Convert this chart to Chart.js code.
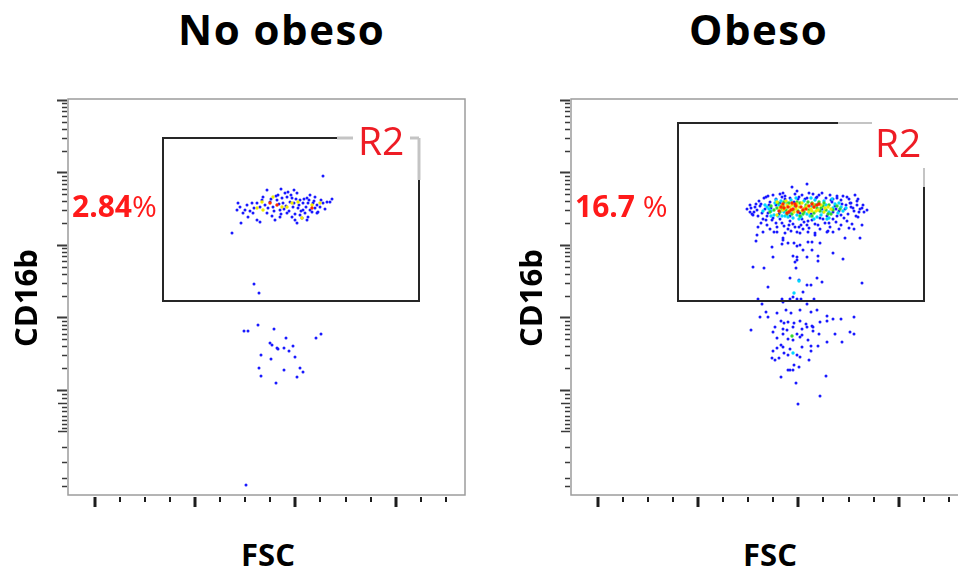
<!DOCTYPE html>
<html>
<head>
<meta charset="utf-8">
<script src="https://cdn.jsdelivr.net/npm/chart.js@4.4.1/dist/chart.umd.min.js"></script>
<style>
  body { margin: 0; width: 958px; height: 572px; overflow: hidden; background: #fff; position: relative; font-family: "Open Sans", sans-serif; }
  canvas { position: absolute; top: 90px; }
  .t { position: absolute; white-space: nowrap; line-height: normal; z-index: 2; }
  .title { font-size: 42px; font-weight: 700; letter-spacing: 1.5px; top: 0px; color: #000; }
  .pct { font-size: 30px; font-weight: 700; color: #ff1a1a; top: 185px; }
  .pct span { font-weight: 400; }
  .gate { font-size: 39px; color: #ee1c25; }
  .axy { font-size: 31px; font-weight: 700; width: 200px; height: 42px; text-align: center; top: 277px; transform: rotate(-90deg); }
  .axx { font-size: 31px; font-weight: 700; width: 200px; text-align: center; top: 533px; }
</style>
</head>
<body>
<canvas id="leftPlot" width="430" height="430" style="left:40px"></canvas>
<canvas id="rightPlot" width="430" height="430" style="left:543px"></canvas>

<div class="t title" style="left:178px">No obeso</div>
<div class="t title" style="left:689px">Obeso</div>
<div class="t pct" style="left:72px">2.84<span>%</span></div>
<div class="t pct" style="left:575px">16.7 <span>%</span></div>
<div class="t gate" style="left:358px;top:113px">R2</div>
<div class="t gate" style="left:875px;top:115px">R2</div>
<div class="t axy" style="left:-75px">CD16b</div>
<div class="t axy" style="left:430px">CD16b</div>
<div class="t axx" style="left:168px">FSC</div>
<div class="t axx" style="left:670px">FSC</div>

<script>
// FSC (linear channels) and CD16b (log display channels), one pair per event
const leftBlue = [
  [170,292],[172,288],[169,285],[175,282],[179,290],[177,285],[184,292],[185,282],[173,272],[189,275],[192,273],[180,278],
  [195,298],[199,305],[202,293],[205,288],[209,295],[212,285],[215,292],[219,298],[222,293],[225,288],[229,302],[232,295],
  [235,292],[239,297],[242,285],[245,292],[249,290],[252,288],[255,292],[259,293],[264,296],[262,293],
  [212,278],[219,282],[224,278],[227,275],[232,280],[237,282],[239,275],[229,272],[207,275],[199,282],[192,288],[189,292],
  [200,287],[210,300],[217,302],[220,303],[224,297],[230,287],[235,285],[240,292],[247,287],[250,283],[242,300],[247,298],
  [249,282],[240,278],
  [197,290],[203,296],[206,284],[211,291],[214,297],[216,286],[218,289],[221,284],[223,300],[226,292],[228,296],[231,290],
  [233,284],[236,296],[238,288],[241,295],[244,283],[246,294],[204,279],[213,281],[227,281],[234,277],[186,287],[182,284],
  [194,295],[208,299],[253,295],[257,286],[226,305],[213,306],
  [255,319],[164,262],[186,211],[191,202],
  [190,170],[176,164],[180,164],[206,166],[218,157],[202,152],[204,150],[209,147],[210,146],[216,147],[221,144],[225,149],
  [248,157],[253,161],[193,140],[203,136],[227,138],[191,127],[216,125],[232,127],[235,123],[193,119],[229,118],[208,112],
  [178,10]
];
const leftYellow = [[194,293],[205,298],[219,288],[224,292],[234,277],[244,290],[252,292],[189,287],[214,288],[195,285],[230,293]];
const leftRed = [[202,292],[209,290],[244,287]];

const rightBlue = [
  [185,254],[201,248],[211,251],[217,252],[223,252],[226,249],[229,250],[212,255],[237,253],[249,252],[232,245],[241,245],
  [222,239],[226,238],[226,235],[224,233],[202,238],[236,238],[247,239],[247,234],[262,242],[272,236],[182,228],[193,227],
  [225,227],[219,217],[228,215],[246,217],[251,213],[236,210],[240,210],[291,212],[197,208],[232,203],
  [187,196],[211,196],[219,196],[226,196],[230,196],[243,196],[212,193],[222,198],[191,191],[236,191],[215,185],[220,182],
  [229,185],[240,183],[246,185],[195,183],[206,182],[197,178],[189,178],[210,174],[213,172],[217,173],[223,172],[229,174],
  [235,171],[241,169],[249,173],[256,179],[256,174],[262,176],[270,176],[283,178],[204,168],[212,166],[216,165],[222,168],
  [231,166],[236,168],[242,168],[242,164],[180,165],[202,163],[212,161],[226,161],[229,158],[231,160],[248,161],[264,161],
  [279,163],[283,161],[206,157],[217,156],[222,155],[237,155],[256,153],[271,153],[210,150],[212,148],[206,147],[219,146],
  [231,148],[240,149],[247,149],[202,144],[213,142],[240,144],[217,140],[226,140],[229,138],[201,137],[204,135],[208,137],
  [238,135],[223,130],[228,128],[217,125],[219,125],[222,125],[210,118],[255,119],[225,112],[249,99],[227,91],
  [186,260],[212,257],[241,253],[237,263],[262,263],[274,257],[289,257],[256,263],[229,262],[244,260],[206,263],[192,263],
  [221,308],[236,311],[197,299],[202,300],[209,301],[214,299],[224,301],[231,300],[242,301],[251,302],[259,300],[266,299],
  [276,298],[284,300],[176,286],[179,283],[184,288],[182,280],[296,285],[292,290],[287,278],[291,287],
  [188,294],[193,297],[205,296],[211,298],[219,297],[228,298],[236,297],[246,298],[255,297],[262,296],[270,295],[278,296],
  [286,294],[280,292],[190,291],[199,293],[186,285],[189,289],[191,282],[194,286],[196,279],[183,283],[187,279],[198,290],
  [180,287],[192,276],[264,289],[268,284],[271,291],[274,286],[277,281],[280,288],[283,284],[286,290],[288,283],[266,279],
  [273,277],[279,292],[285,279],[261,293],
  [190,272],[196,270],[201,275],[206,268],[211,272],[217,266],[222,271],[228,268],[233,273],[238,267],[244,271],[249,266],
  [254,272],[259,268],[265,273],[270,270],[276,274],[281,271],[187,268],[203,263],[214,262],[226,263],
  [199,266],[209,276],[219,274],[231,276],[241,275],[252,276],[262,276],[247,270],[236,270],[224,268],[213,269],[205,272],
  [195,275],[257,264],[268,266],[278,267],[291,270],[283,266],[244,262],[232,266],[220,264],
  [200,287],[205,290],[208,281],[214,296],[219,279],[223,293],[229,282],[234,296],[240,281],[245,297],[251,286],[256,279],
  [260,295],[265,286],[270,280],[275,290],[282,287],[289,286],[185,291],[181,281],[197,282],[202,277],[237,274],[249,277],
  [258,272],[209,292],[227,296],[262,283],[218,270],[230,270],[195,298],[266,297],[272,299],[287,296],[293,283],[179,290],
  [248,300],[238,302],[212,302],[226,304]
];
const rightCyan = [
  [196,288],[200,284],[204,292],[207,279],[210,294],[213,283],[217,278],[220,295],[226,280],[233,294],[239,279],[244,295],
  [250,280],[255,290],[258,283],[262,287],[267,282],[253,294],[203,280],[270,288],[216,292],[247,291],[230,278],[241,289],
  [198,286],[208,290],[219,282],[236,281],[252,283],[264,291],[258,277],[228,276],[211,279],[246,278],[223,202],[222,142],
  [228,214],[194,290],[192,284],[272,284],[275,287],[205,295],[225,297],[240,297],[261,296],[268,292],[214,279],[243,276],
  [222,277],[256,276],[200,279]
];
const rightGreen = [
  [206,287],[209,283],[212,289],[215,285],[218,292],[221,281],[224,289],[227,284],[229,292],[232,281],[235,290],[238,285],
  [241,292],[243,282],[246,287],[249,284],[252,289],[255,285],[258,290],[213,293],[234,287],[222,285],[248,293],[257,281],
  [211,286],[244,290],[221,159],[200,289],[203,285],[207,292],[262,285],[266,289],[260,281],[253,292],[237,293],[226,293],
  [216,281],[229,279],[241,279],[250,287],[269,286],[199,283],[233,283]
];
const rightYellow = [
  [214,287],[218,284],[221,290],[225,286],[228,288],[231,284],[236,289],[240,286],[243,288],[247,285],[250,290],[219,288],
  [233,286],[238,283],[226,291],[245,284],[216,290],[242,291],[209,287],[212,285],[254,287],[257,288],[223,283],[235,287],
  [241,284],[211,290],[206,280],[260,286],[215,294],[231,292],[206,293],[253,283]
];
const rightRed = [
  [208,284],[212,291],[216,282],[221,292],[225,289],[213,287],[218,283],[241,291],[246,290],[243,288],[222,286],[230,288],
  [235,286],[217,288],[210,288],[227,283],[238,289],[248,291],[224,291],[232,285],[220,285]
];

// axis ticks (no labels in the original)
const xTickValues = [26.5, 51.6, 76.7, 101.8, 126.9, 152, 177.1, 202.2, 227.3, 252.4, 277.5, 302.6, 327.7, 352.8, 377.9];
const yDecades = [105, 177.5, 250, 322.5, 395];
const yLowTicks = [101, 97, 92, 88, 84, 79, 75, 71, 67, 64, 48, 33, 17, 9];
const decadeSize = 72.5;

const leftGate = { x1: 95, x2: 351, y1: 194, y2: 357, topBlackEnd: 269, topGray: [[269, 285], [342, 351]], rightGrayTop: 357, rightBlackTop: 315, grayWidth: 3, grayColor: '#c4c4c4' };
const rightGate = { x1: 107, x2: 353, y1: 194, y2: 372, topBlackEnd: 267, topGray: [[267, 301]], rightGrayTop: 327, rightBlackTop: 308, grayWidth: 1.5, grayColor: '#b0b0b0' };

const toXY = arr => arr.map(p => ({ x: p[0], y: p[1] }));

const framePlugin = {
  id: 'frame',
  afterDatasetsDraw(chart, args, opts) {
    const { ctx, chartArea: a, scales: { x, y } } = chart;
    const g = opts.gate;
    ctx.save();
    ctx.lineCap = 'butt';

    // gate
    ctx.strokeStyle = '#262626';
    ctx.lineWidth = 2;
    ctx.beginPath();
    ctx.moveTo(x.getPixelForValue(g.topBlackEnd), y.getPixelForValue(g.y2));
    ctx.lineTo(x.getPixelForValue(g.x1), y.getPixelForValue(g.y2));
    ctx.lineTo(x.getPixelForValue(g.x1), y.getPixelForValue(g.y1));
    ctx.lineTo(x.getPixelForValue(g.x2), y.getPixelForValue(g.y1));
    ctx.lineTo(x.getPixelForValue(g.x2), y.getPixelForValue(g.rightBlackTop));
    ctx.stroke();
    ctx.strokeStyle = g.grayColor;
    ctx.lineWidth = g.grayWidth;
    g.topGray.forEach(s => {
      ctx.beginPath();
      ctx.moveTo(x.getPixelForValue(s[0]), y.getPixelForValue(g.y2));
      ctx.lineTo(x.getPixelForValue(s[1]), y.getPixelForValue(g.y2));
      ctx.stroke();
    });
    ctx.beginPath();
    ctx.moveTo(x.getPixelForValue(g.x2), y.getPixelForValue(g.rightGrayTop));
    ctx.lineTo(x.getPixelForValue(g.x2), y.getPixelForValue(g.rightBlackTop));
    ctx.stroke();

    // plot box
    ctx.strokeStyle = '#9c9c9c';
    ctx.lineWidth = 1.5;
    ctx.strokeRect(a.left, a.top, a.right - a.left, a.bottom - a.top);

    // x ticks
    ctx.strokeStyle = '#1c1c1c';
    xTickValues.forEach((v, i) => {
      const px = Math.round(x.getPixelForValue(v));
      const major = i % 4 === 0;
      ctx.lineWidth = major ? 3 : 2;
      ctx.beginPath();
      ctx.moveTo(px, a.bottom + 2);
      ctx.lineTo(px, a.bottom + (major ? 12 : 7));
      ctx.stroke();
    });

    // y ticks (log decades)
    const yTick = (v, len, w) => {
      const py = Math.round(y.getPixelForValue(v)) + 0.5;
      ctx.lineWidth = w;
      ctx.beginPath();
      ctx.moveTo(a.left - 1, py);
      ctx.lineTo(a.left - len, py);
      ctx.stroke();
    };
    ctx.strokeStyle = '#3a3a3a';
    yDecades.forEach((d, i) => {
      yTick(d, 11, 2);
      if (i < yDecades.length - 1) {
        for (let k = 2; k <= 9; k++) yTick(d + decadeSize * Math.log10(k), 6, 1.5);
      }
    });
    yLowTicks.forEach((v, i) => yTick(v, (i === 2 || i === 9) ? 10 : 6, 1.5));
    ctx.restore();
  }
};

function makePlot(id, layers, gate) {
  const colors = ['rgb(255,40,0)', 'rgb(240,235,0)', 'rgb(50,215,50)', 'rgb(0,215,255)', 'rgb(25,25,255)'];
  const datasets = layers.map((d, i) => ({
    data: toXY(d),
    backgroundColor: colors[i],
    borderWidth: 0,
    pointRadius: i < 4 ? 1.7 : 1.5,
    pointStyle: 'circle'
  }));
  return new Chart(document.getElementById(id), {
    type: 'scatter',
    data: { datasets },
    options: {
      responsive: false,
      devicePixelRatio: 1,
      animation: false,
      layout: { padding: { left: 28, top: 9, right: 5, bottom: 25 } },
      scales: {
        x: { type: 'linear', min: 0, max: 397, display: false },
        y: { type: 'linear', min: 0, max: 396, display: false }
      },
      plugins: { legend: { display: false }, tooltip: { enabled: false }, frame: { gate } }
    },
    plugins: [framePlugin]
  });
}

makePlot('leftPlot', [leftRed, leftYellow, [], [], leftBlue], leftGate);
makePlot('rightPlot', [rightRed, rightYellow, rightGreen, rightCyan, rightBlue], rightGate);
</script>
</body>
</html>
